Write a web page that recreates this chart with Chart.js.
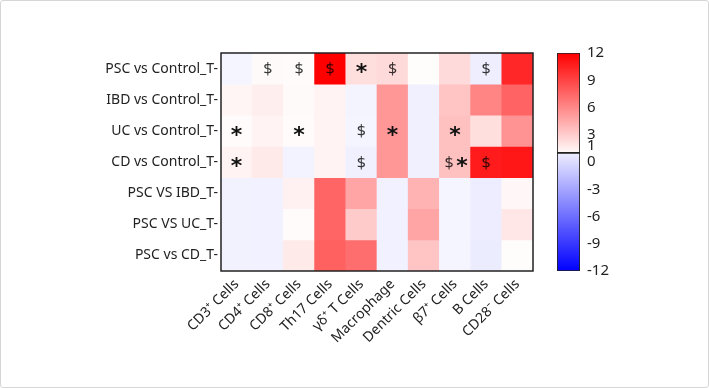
<!DOCTYPE html>
<html>
<head>
<meta charset="utf-8">
<script src="https://cdn.jsdelivr.net/npm/chart.js@4.4.0/dist/chart.umd.min.js"></script>
<style>
  html, body { margin: 0; padding: 0; background: #fff; }
  .frame { position: relative; width: 707px; height: 386px; border: 1px solid #d6d6d6; border-radius: 3px; overflow: hidden; }
  .heat-wrap { position: absolute; left: -1px; top: -1px; }
  .bar-wrap { position: absolute; left: 544px; top: -1px; }
</style>
</head>
<body>
<div class="frame">
  <div class="heat-wrap"><canvas class="heat-chart" width="545" height="388"></canvas></div>
  <div class="bar-wrap"><canvas class="scale-chart" width="164" height="388"></canvas></div>
</div>
<script>
// columns (cell types) and rows (comparisons)
const cellTypes = ['CD3⁺ Cells', 'CD4⁺ Cells', 'CD8⁺ Cells', 'Th17 Cells', 'γδ⁺ T Cells',
    'Macrophage', 'Dentric Cells', 'β7⁺ Cells', 'B Cells', 'CD28⁻ Cells'];
const comparisons = ['PSC vs Control_T-', 'IBD vs Control_T-', 'UC vs Control_T-', 'CD vs Control_T-',
    'PSC VS IBD_T-', 'PSC VS UC_T-', 'PSC vs CD_T-'];

// fold change values, one array per comparison
const pscVsControl = [0.97, 1.1, 1.05, 12, 2.3, 2.5, 1.0, 2.5, 0.6, 10.3];
const ibdVsControl = [1.3, 1.6, 1.1, 1.4, 0.9, 5.4, 0.7, 3.4, 6.2, 7.7];
const ucVsControl = [1.05, 1.4, 1.05, 1.4, 0.97, 5.4, 0.7, 3.6, 2.3, 5.6];
const cdVsControl = [1.4, 1.8, 0.85, 1.4, 0.7, 5.4, 0.7, 3.6, 10.8, 11];
const pscVsIbd = [0.8, 0.75, 1.5, 7.6, 4.8, 0.75, 4.2, 0.95, 0.55, 1.2];
const pscVsUc = [0.8, 0.75, 1.05, 7.6, 3.2, 0.75, 4.8, 0.95, 0.55, 1.9];
const pscVsCd = [0.8, 0.75, 1.8, 7.8, 7.2, 0.75, 3.4, 0.95, 0.45, 1.0];
const heatRows = [pscVsControl, ibdVsControl, ucVsControl, cdVsControl, pscVsIbd, pscVsUc, pscVsCd];

// significance marks: [row, column]
const dollarMarks = [[0, 1], [0, 2], [0, 3], [0, 5], [0, 8], [2, 4], [3, 4], [3, 8]];
const starMarks = [[0, 4], [2, 0], [2, 2], [2, 5], [2, 7], [3, 0]];
const dollarStarMarks = [[3, 7]];

// colour bar
const scaleTicks = [-12, -9, -6, -3, 0, 1, 3, 6, 9, 12];
const scaleMin = -12;
const scaleMax = 12;
const scaleSplit = 1;

const labelFont = { family: 'Noto Sans', size: 14 };

function cellColor(v) {
    if (v >= scaleSplit) {
        const t = Math.min((v - scaleSplit) / (scaleMax - scaleSplit), 1);
        const c = Math.round(252 * (1 - t));
        return `rgb(255, ${c}, ${c})`;
    }
    const t = Math.min((scaleSplit - v) / (scaleSplit - scaleMin), 1);
    const c = Math.round(246 * (1 - t));
    return `rgb(${c}, ${c}, 255)`;
}

const cellMarks = {
    id: 'cellMarks',
    afterDatasetsDraw(chart) {
        const { ctx, chartArea, scales: { x, y } } = chart;
        ctx.save();
        ctx.textAlign = 'center';
        ctx.textBaseline = 'middle';
        ctx.fillStyle = 'rgba(0, 0, 0, 0.78)';
        ctx.font = '16px "Noto Sans"';
        dollarMarks.forEach(([r, c]) => {
            ctx.fillText('$', x.getPixelForValue(c), y.getPixelForValue(r + 0.5) + 1);
        });
        dollarStarMarks.forEach(([r, c]) => {
            ctx.fillText('$', x.getPixelForValue(c) - 6, y.getPixelForValue(r + 0.5) + 1);
        });
        ctx.fillStyle = '#111';
        ctx.font = 'bold 22px "DejaVu Sans"';
        starMarks.forEach(([r, c]) => {
            ctx.fillText('*', x.getPixelForValue(c), y.getPixelForValue(r + 0.5) + 5);
        });
        dollarStarMarks.forEach(([r, c]) => {
            ctx.fillText('*', x.getPixelForValue(c) + 7, y.getPixelForValue(r + 0.5) + 5);
        });
        // frame round the heat map
        ctx.strokeStyle = '#222';
        ctx.lineWidth = 1.5;
        ctx.strokeRect(chartArea.left, chartArea.top, chartArea.width, chartArea.height);
        ctx.restore();
    }
};

function initializeHeatChart() {
    const ctx = document.querySelector('.heat-chart').getContext('2d');
    const datasets = heatRows.map((values, i) => ({
        label: comparisons[i],
        data: values.map(() => [i, i + 1]),
        backgroundColor: values.map(cellColor),
        borderWidth: 0,
        grouped: false,
        barPercentage: 1,
        categoryPercentage: 1
    }));
    return new Chart(ctx, {
        type: 'bar',
        data: { labels: cellTypes, datasets: datasets },
        options: {
            responsive: false,
            animation: false,
            layout: { padding: { top: 53, right: 12, left: 0, bottom: 0 } },
            plugins: { legend: { display: false }, tooltip: { enabled: false } },
            scales: {
                x: {
                    grid: { display: false, drawTicks: false },
                    border: { display: false },
                    ticks: { maxRotation: 45, minRotation: 45, color: '#222', font: labelFont, padding: 5 },
                    afterFit: scale => { scale.height = 117; }
                },
                y: {
                    type: 'linear',
                    min: 0,
                    max: comparisons.length,
                    reverse: true,
                    grid: { display: false, drawTicks: false },
                    border: { display: false },
                    afterBuildTicks: axis => {
                        axis.ticks = comparisons.map((_, i) => ({ value: i + 0.5 }));
                    },
                    ticks: {
                        color: '#222',
                        font: labelFont,
                        padding: 3,
                        autoSkip: false,
                        callback: (value, index) => comparisons[index]
                    },
                    afterFit: scale => { scale.width = 221; }
                }
            }
        },
        plugins: [cellMarks]
    });
}

function scaleGradient(context, top, bottom, topColor, bottomColor) {
    const { chart } = context;
    if (!chart.chartArea) return topColor;
    const y = chart.scales.y;
    const g = chart.ctx.createLinearGradient(0, y.getPixelForValue(top), 0, y.getPixelForValue(bottom));
    g.addColorStop(0, topColor);
    g.addColorStop(1, bottomColor);
    return g;
}

function initializeScaleChart() {
    const ctx = document.querySelector('.scale-chart').getContext('2d');
    return new Chart(ctx, {
        type: 'bar',
        data: {
            labels: [''],
            datasets: [
                {
                    data: [[scaleSplit, scaleMax]],
                    backgroundColor: c => scaleGradient(c, scaleMax, scaleSplit, 'rgb(255,0,0)', 'rgb(255,250,250)'),
                    borderColor: '#222',
                    borderWidth: 1.2,
                    borderSkipped: false,
                    grouped: false,
                    barPercentage: 1,
                    categoryPercentage: 1
                },
                {
                    data: [[scaleMin, scaleSplit]],
                    backgroundColor: c => scaleGradient(c, scaleSplit, scaleMin, 'rgb(238,238,255)', 'rgb(0,0,255)'),
                    borderColor: '#222',
                    borderWidth: 1.2,
                    borderSkipped: false,
                    grouped: false,
                    barPercentage: 1,
                    categoryPercentage: 1
                }
            ]
        },
        options: {
            responsive: false,
            animation: false,
            layout: { padding: { top: 53, right: 0, left: 12, bottom: 117 } },
            plugins: { legend: { display: false }, tooltip: { enabled: false } },
            scales: {
                x: { display: false },
                y: {
                    position: 'right',
                    min: scaleMin,
                    max: scaleMax,
                    grid: { display: false, drawTicks: false },
                    border: { display: false },
                    afterBuildTicks: axis => {
                        axis.ticks = scaleTicks.map(v => ({ value: v }));
                    },
                    ticks: {
                        color: '#222',
                        font: { family: 'Noto Sans', size: 15, lineHeight: 1.0 },
                        padding: 7,
                        autoSkip: false,
                        // the "1" label sits just above its tick so it clears the "0"
                        callback: v => (v === scaleSplit ? [String(v), ''] : String(v))
                    },
                    afterFit: scale => { scale.width = 129; }
                }
            }
        }
    });
}

initializeHeatChart();
initializeScaleChart();
</script>
</body>
</html>
